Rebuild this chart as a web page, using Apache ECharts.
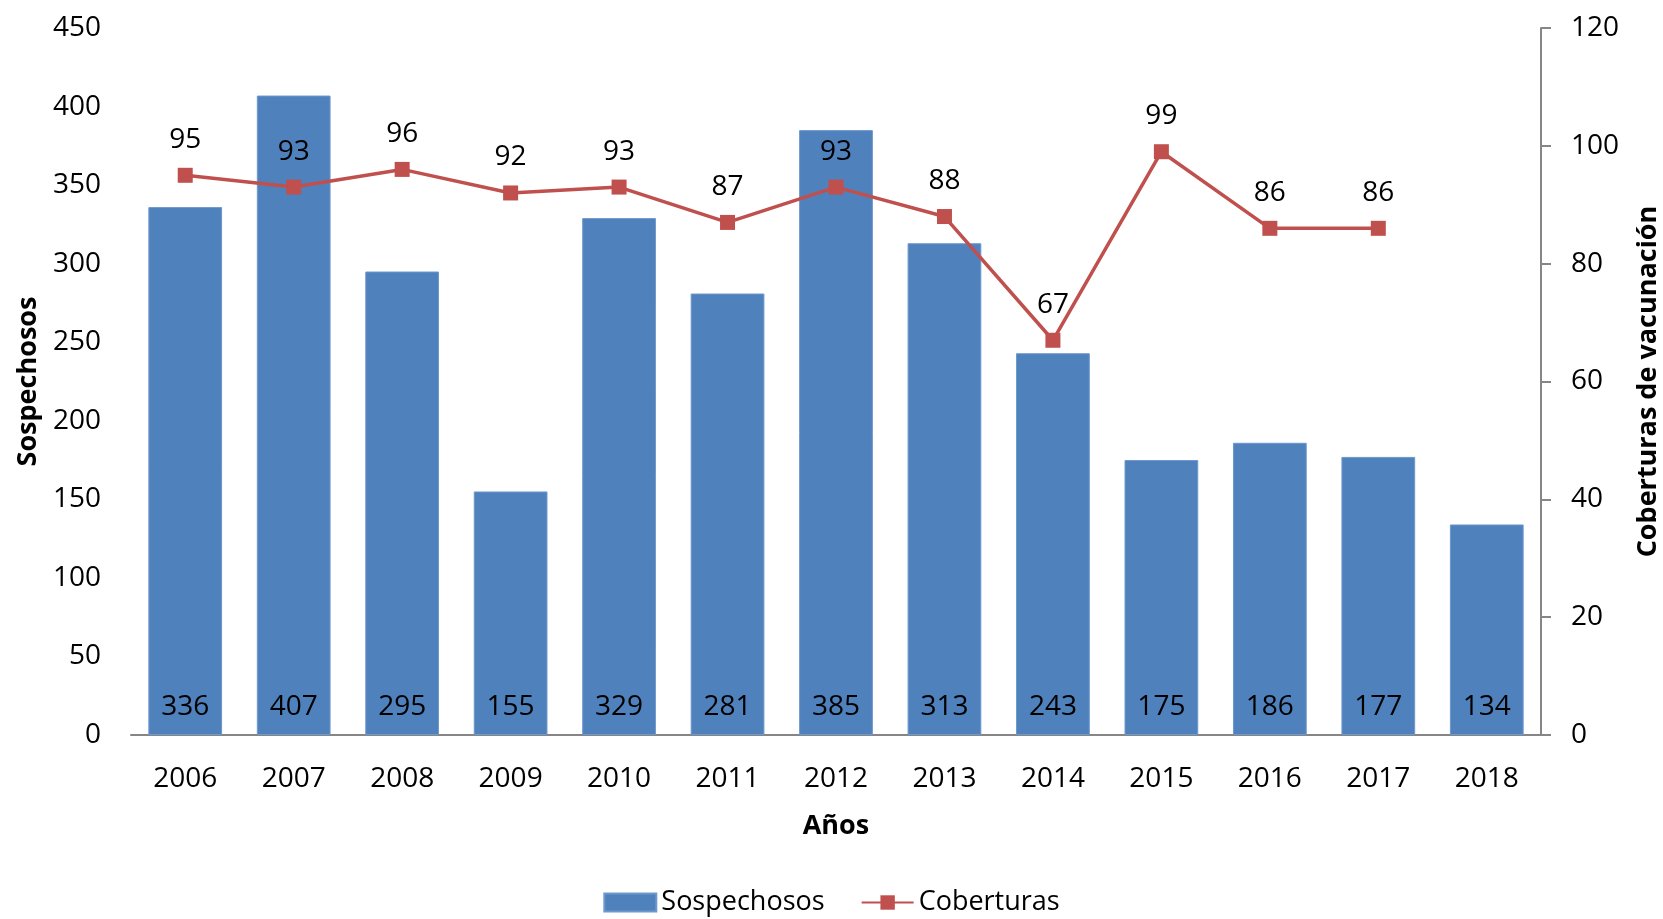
<!DOCTYPE html>
<html>
<head>
<meta charset="utf-8">
<script src="https://cdn.jsdelivr.net/npm/echarts@6/dist/echarts.min.js"></script>
<style>
  html, body { margin: 0; padding: 0; background: #fff; }
  #chart { width: 1663px; height: 919px; }
</style>
</head>
<body>
<div id="chart"></div>
<script>
// datos
const years = ['2006', '2007', '2008', '2009', '2010', '2011', '2012', '2013', '2014', '2015', '2016', '2017', '2018']
const sospechosos = [336, 407, 295, 155, 329, 281, 385, 313, 243, 175, 186, 177, 134]
const coberturas = [95, 93, 96, 92, 93, 87, 93, 88, 67, 99, 86, 86, null]

const font = 'Open Sans'
const axisGray = '#868686'

const chart = echarts.init(document.getElementById('chart'))
chart.setOption({
  textStyle: { fontFamily: font },
  animation: false,
  grid: { left: 131, right: 122, top: 28, bottom: 184, outerBoundsMode: 'none', containLabel: false },
  legend: {
    bottom: -2,
    left: 'center',
    itemWidth: 52,
    itemHeight: 18,
    itemGap: 36,
    textStyle: { fontSize: 27, color: '#000', fontFamily: font },
    data: [
      { name: 'Sospechosos', icon: 'rect' },
      { name: 'Coberturas' }
    ]
  },
  xAxis: {
    type: 'category',
    data: years,
    name: 'Años',
    nameLocation: 'middle',
    nameGap: 78,
    nameTextStyle: { fontSize: 27, fontWeight: 'bold', color: '#000' },
    axisLine: { lineStyle: { color: axisGray, width: 2 } },
    axisTick: { show: false },
    axisLabel: { fontSize: 28, color: '#000', margin: 30 }
  },
  yAxis: [
    {
      type: 'value',
      min: 0,
      max: 450,
      interval: 50,
      name: 'Sospechosos',
      nameLocation: 'middle',
      nameGap: 87,
      nameRotate: 90,
      nameTextStyle: { fontSize: 27, fontWeight: 'bold', color: '#000' },
      axisLine: { show: false },
      axisTick: { show: false },
      splitLine: { show: false },
      axisLabel: { fontSize: 28, color: '#000', margin: 30 }
    },
    {
      type: 'value',
      min: 0,
      max: 120,
      interval: 20,
      name: 'Coberturas de vacunación',
      nameLocation: 'middle',
      nameGap: 94,
      nameRotate: 90,
      nameTextStyle: { fontSize: 27, fontWeight: 'bold', color: '#000' },
      axisLine: { show: true, lineStyle: { color: axisGray, width: 2 } },
      axisTick: { show: true, length: 10, lineStyle: { color: axisGray, width: 2 } },
      splitLine: { show: false },
      axisLabel: { fontSize: 28, color: '#000', margin: 30 }
    }
  ],
  series: [
    {
      name: 'Sospechosos',
      type: 'bar',
      data: sospechosos,
      barWidth: '68%',
      itemStyle: { color: '#4F81BD', borderColor: '#6f98cc', borderWidth: 1 },
      label: {
        show: true,
        position: 'insideBottom',
        distance: 14,
        fontSize: 28,
        color: '#000',
        fontFamily: font
      }
    },
    {
      name: 'Coberturas',
      type: 'line',
      yAxisIndex: 1,
      data: coberturas,
      symbol: 'rect',
      symbolSize: 15,
      connectNulls: false,
      lineStyle: { color: '#C0504D', width: 3.5 },
      itemStyle: { color: '#C0504D' },
      label: {
        show: true,
        position: 'top',
        distance: 14,
        fontSize: 28,
        color: '#000',
        fontFamily: font
      }
    }
  ]
})
</script>
</body>
</html>
